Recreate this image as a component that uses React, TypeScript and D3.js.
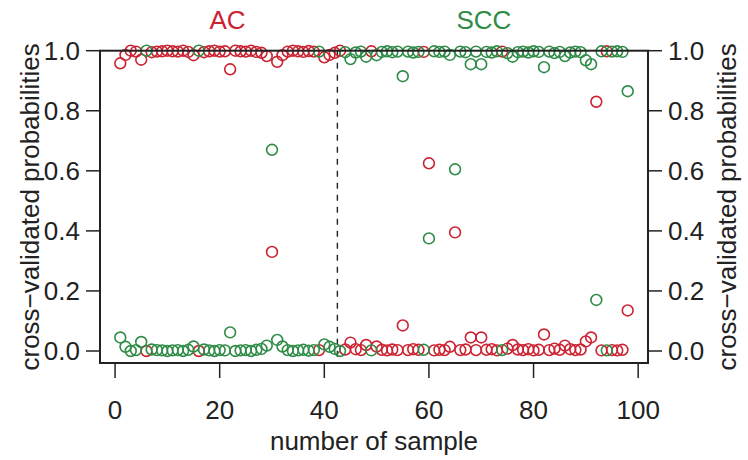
import React from "react";
import * as d3 from "d3";

const samples: number[] = d3.range(1, 99);

const acProb: number[] = [
  0.958, 0.986, 1.0, 0.997, 0.97, 0.0, 0.995, 0.997, 0.998, 1.0,
  0.998, 0.997, 1.0, 0.996, 0.985, 0.0, 0.995, 0.998, 1.0, 0.997,
  0.998, 0.938, 1.0, 0.998, 0.997, 1.0, 0.996, 0.993, 0.982, 0.33,
  0.963, 0.985, 0.997, 1.0, 0.998, 0.996, 0.999, 0.997, 0.003, 0.978,
  0.986, 0.993, 1.0, 0.005, 0.028, 0.006, 0.003, 0.02, 0.998, 0.015,
  0.004, 0.002, 0.005, 0.003, 0.085, 0.003, 0.006, 0.004, 0.996, 0.625,
  0.002, 0.004, 0.003, 0.014, 0.395, 0.003, 0.005, 0.045, 0.003, 0.045,
  0.004, 0.006, 0.002, 0.997, 0.008, 0.02, 0.005, 0.003, 0.006, 0.002,
  0.004, 0.055, 0.003, 0.008, 0.004, 0.018, 0.006, 0.003, 0.005, 0.032,
  0.045, 0.83, 0.002, 0.998, 0.003, 0.002, 0.004, 0.135,
];

const sccProb: number[] = [
  0.045, 0.014, 0.0, 0.003, 0.03, 1.0, 0.005, 0.003, 0.002, 0.0,
  0.002, 0.003, 0.0, 0.004, 0.015, 1.0, 0.005, 0.002, 0.0, 0.003,
  0.002, 0.062, 0.0, 0.002, 0.003, 0.0, 0.004, 0.007, 0.018, 0.67,
  0.037, 0.015, 0.003, 0.0, 0.002, 0.004, 0.001, 0.003, 0.997, 0.022,
  0.014, 0.007, 0.0, 0.995, 0.972, 0.994, 0.997, 0.98, 0.002, 0.985,
  0.996, 0.998, 0.995, 0.997, 0.915, 0.997, 0.994, 0.996, 0.004, 0.375,
  0.998, 0.996, 0.997, 0.986, 0.605, 0.997, 0.995, 0.955, 0.997, 0.955,
  0.996, 0.994, 0.998, 0.003, 0.992, 0.98, 0.995, 0.997, 0.994, 0.998,
  0.996, 0.945, 0.997, 0.992, 0.996, 0.982, 0.994, 0.997, 0.995, 0.968,
  0.955, 0.17, 0.998, 0.002, 0.997, 0.998, 0.996, 0.865,
];

const xTicks: number[] = [0, 20, 40, 60, 80, 100];
const yTicks: number[] = [0.0, 0.2, 0.4, 0.6, 0.8, 1.0];
const groupLabels: string[] = ["AC", "SCC"];
const groupCenters: number[] = [21.5, 70.5];
const splitAt = 42.5;

const RED = "#cc2231";
const GREEN = "#2e8c47";
const INK = "#222222";
const FONT = "'Liberation Sans', Arial, Helvetica, sans-serif";

export default function App() {
  const W = 748;
  const H = 460;
  const left = 100;
  const right = 648;
  const top = 50.7;
  const bottom = 363;

  const x = d3.scaleLinear().domain([-2.88, 101.88]).range([left, right]);
  const y = d3.scaleLinear().domain([0, 1]).range([351, 50.7]);
  const fs = 26;

  return (
    <svg
      width={W}
      height={H}
      style={{ position: "absolute", left: 0, top: 0, background: "#fff" }}
      fontFamily={FONT}
    >
      <rect x={0} y={0} width={W} height={H} fill="#fff" />
      <line
        x1={x(splitAt)}
        x2={x(splitAt)}
        y1={top}
        y2={bottom}
        stroke={INK}
        strokeWidth={1.4}
        strokeDasharray="6,6"
      />
      {samples.map((s, i) => (
        <circle
          key={"r" + s}
          cx={x(s)}
          cy={y(acProb[i])}
          r={5.4}
          fill="none"
          stroke={RED}
          strokeWidth={1.6}
        />
      ))}
      {samples.map((s, i) => (
        <circle
          key={"g" + s}
          cx={x(s)}
          cy={y(sccProb[i])}
          r={5.4}
          fill="none"
          stroke={GREEN}
          strokeWidth={1.6}
        />
      ))}
      <rect
        x={left}
        y={top}
        width={right - left}
        height={bottom - top}
        fill="none"
        stroke={INK}
        strokeWidth={2}
      />
      {yTicks.map((t) => (
        <g key={"yl" + t}>
          <line x1={left - 14} x2={left} y1={y(t)} y2={y(t)} stroke={INK} strokeWidth={1.5} />
          <text
            x={left - 20}
            y={y(t)}
            textAnchor="end"
            dominantBaseline="central"
            fontSize={fs}
            fill={INK}
          >
            {d3.format(".1f")(t)}
          </text>
        </g>
      ))}
      {yTicks.map((t) => (
        <g key={"yr" + t}>
          <line x1={right} x2={right + 14} y1={y(t)} y2={y(t)} stroke={INK} strokeWidth={1.5} />
          <text
            x={right + 20}
            y={y(t)}
            textAnchor="start"
            dominantBaseline="central"
            fontSize={fs}
            fill={INK}
          >
            {d3.format(".1f")(t)}
          </text>
        </g>
      ))}
      {xTicks.map((t) => (
        <g key={"x" + t}>
          <line x1={x(t)} x2={x(t)} y1={bottom} y2={bottom + 15} stroke={INK} strokeWidth={1.5} />
          <text
            x={x(t)}
            y={410}
            textAnchor="middle"
            dominantBaseline="central"
            fontSize={fs}
            fill={INK}
          >
            {t}
          </text>
        </g>
      ))}
      <text
        x={(left + right) / 2}
        y={441}
        textAnchor="middle"
        dominantBaseline="central"
        fontSize={fs}
        fill={INK}
      >
        number of sample
      </text>
      <text
        transform={`translate(30, ${(top + bottom) / 2}) rotate(-90)`}
        textAnchor="middle"
        dominantBaseline="central"
        fontSize={fs}
        fill={INK}
      >
        cross−validated probabilities
      </text>
      <text
        transform={`translate(727, ${(top + bottom) / 2}) rotate(-90)`}
        textAnchor="middle"
        dominantBaseline="central"
        fontSize={fs}
        fill={INK}
      >
        cross−validated probabilities
      </text>
      {groupLabels.map((g, i) => (
        <text
          key={g}
          x={x(groupCenters[i])}
          y={20}
          textAnchor="middle"
          dominantBaseline="central"
          fontSize={fs}
          fill={i === 0 ? RED : GREEN}
        >
          {g}
        </text>
      ))}
    </svg>
  );
}
